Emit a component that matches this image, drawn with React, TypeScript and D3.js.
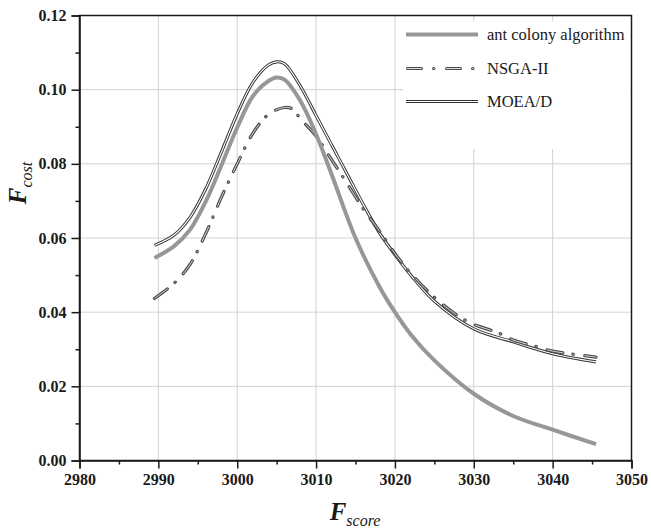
import React, { useEffect, useRef } from "react";
import * as d3 from "d3";

// Fscore values where each curve was sampled
const antX = [2989.5, 2992, 2994, 2996, 2998, 3000, 3002, 3004, 3005, 3006, 3008, 3010, 3012, 3015, 3018, 3020, 3022, 3025, 3030, 3035, 3040, 3045.5];
const antY = [0.0546, 0.0578, 0.0622, 0.0698, 0.0796, 0.0898, 0.0983, 0.1024, 0.1033, 0.1027, 0.097, 0.088, 0.077, 0.06, 0.047, 0.04, 0.034, 0.027, 0.018, 0.012, 0.0083, 0.0044];

const nsgaX = [2989.5, 2992, 2994, 2996, 2998, 3000, 3002, 3004, 3006, 3007, 3008, 3010, 3012, 3014, 3016, 3018, 3020, 3022, 3025, 3028, 3030, 3033, 3035, 3038, 3040, 3045.5];
const nsgaY = [0.0437, 0.0478, 0.0528, 0.0612, 0.071, 0.08, 0.0883, 0.0934, 0.0952, 0.0948, 0.0922, 0.0875, 0.081, 0.0745, 0.0678, 0.062, 0.0558, 0.0505, 0.044, 0.039, 0.0367, 0.0345, 0.0325, 0.0307, 0.0295, 0.0279];

const moeaX = [2989.5, 2992, 2994, 2996, 2998, 3000, 3002, 3004, 3005, 3006, 3008, 3010, 3012, 3014, 3016, 3018, 3020, 3022, 3025, 3030, 3035, 3040, 3045.5];
const moeaY = [0.058, 0.0608, 0.0655, 0.0732, 0.0832, 0.0935, 0.102, 0.1067, 0.1075, 0.107, 0.101, 0.093, 0.085, 0.077, 0.069, 0.0615, 0.0555, 0.05, 0.043, 0.0355, 0.032, 0.0288, 0.0266];

const legendNames = ["ant colony algorithm", "NSGA-II", "MOEA/D"];
const xTicks = [2980, 2990, 3000, 3010, 3020, 3030, 3040, 3050];
const yTicks = [0, 0.02, 0.04, 0.06, 0.08, 0.1, 0.12];

export default function App() {
  const ref = useRef<SVGSVGElement>(null);

  useEffect(() => {
    const svg = d3.select(ref.current);
    svg.selectAll("*").remove();

    const left = 79.5, right = 631.5, top = 15.5, bottom = 460.5;
    const x = d3.scaleLinear().domain([2980, 3050]).range([left, right]);
    const y = d3.scaleLinear().domain([0, 0.12]).range([bottom, top]);
    const serif = "Liberation Serif, Times New Roman, Times, serif";
    const ink = "#1a1a1a";

    // grid
    const grid = svg.append("g").attr("stroke", "#d2d2d2").attr("stroke-width", 1);
    xTicks.slice(1, -1).forEach(t => {
      grid.append("line").attr("x1", x(t)).attr("x2", x(t)).attr("y1", top).attr("y2", bottom);
    });
    yTicks.slice(1, -1).forEach(t => {
      grid.append("line").attr("x1", left).attr("x2", right).attr("y1", y(t)).attr("y2", y(t));
    });

    // legend background hides the grid
    svg.append("rect").attr("x", 403).attr("y", 21).attr("width", right - 404).attr("height", 128).attr("fill", "#fff");

    const line = (xs: number[], ys: number[]) =>
      d3.line<number>().x((_, i) => x(xs[i])).y(d => y(d)).curve(d3.curveCatmullRom.alpha(0.5))(ys);

    // MOEA/D: double line
    svg.append("path").attr("d", line(moeaX, moeaY)).attr("fill", "none").attr("stroke", "#333").attr("stroke-width", 3.1);
    svg.append("path").attr("d", line(moeaX, moeaY)).attr("fill", "none").attr("stroke", "#fff").attr("stroke-width", 1.1);

    // NSGA-II: hollow dash-dot
    const dash = "16 10 0.5 11.5";
    svg.append("path").attr("d", line(nsgaX, nsgaY)).attr("fill", "none").attr("stroke", "#4a4a4a")
      .attr("stroke-width", 3.2).attr("stroke-linecap", "round").attr("stroke-dasharray", dash);
    svg.append("path").attr("d", line(nsgaX, nsgaY)).attr("fill", "none").attr("stroke", "#d8d8d8")
      .attr("stroke-width", 1).attr("stroke-linecap", "round").attr("stroke-dasharray", dash);

    // ant colony: thick gray
    svg.append("path").attr("d", line(antX, antY)).attr("fill", "none").attr("stroke", "#979797").attr("stroke-width", 4);

    // frame
    svg.append("rect").attr("x", left).attr("y", top).attr("width", right - left).attr("height", bottom - top)
      .attr("fill", "none").attr("stroke", ink).attr("stroke-width", 1.5);

    // axes
    const xAxis = svg.append("g").attr("transform", `translate(0,${bottom})`)
      .call(d3.axisBottom(x).tickValues(xTicks).tickSize(8).tickPadding(5).tickFormat(d3.format("d")));
    svg.append("g").attr("transform", `translate(0,${bottom})`)
      .call(d3.axisBottom(x).tickValues(d3.range(2985, 3050, 10)).tickSize(4).tickFormat(() => ""))
      .call(g => g.select(".domain").remove());
    const yAxis = svg.append("g").attr("transform", `translate(${left},0)`)
      .call(d3.axisLeft(y).tickValues(yTicks).tickSize(8).tickPadding(5).tickFormat(d3.format(".2f")));
    svg.append("g").attr("transform", `translate(${left},0)`)
      .call(d3.axisLeft(y).tickValues(d3.range(0.01, 0.12, 0.02)).tickSize(4).tickFormat(() => ""))
      .call(g => g.select(".domain").remove());
    svg.selectAll(".tick line").attr("stroke", ink).attr("stroke-width", 1.5);
    svg.selectAll(".domain").attr("stroke", ink).attr("stroke-width", 1.5);
    [xAxis, yAxis].forEach(a => {
      a.attr("font-family", null).attr("font-size", null);
      a.selectAll("text").style("font-family", serif).style("font-weight", "bold")
        .style("font-size", "16px").attr("fill", ink);
    });

    // axis titles
    const xt = svg.append("text").attr("x", 355).attr("y", 520).attr("text-anchor", "middle")
      .style("font-family", serif).style("font-style", "italic").attr("fill", ink);
    xt.append("tspan").style("font-size", "25px").style("font-weight", "bold").text("F");
    xt.append("tspan").style("font-size", "16px").attr("dy", 6).text("score");

    const yt = svg.append("text").attr("transform", "translate(26,183) rotate(-90)").attr("text-anchor", "middle")
      .style("font-family", serif).style("font-style", "italic").attr("fill", ink);
    yt.append("tspan").style("font-size", "25px").style("font-weight", "bold").text("F");
    yt.append("tspan").style("font-size", "16px").attr("dy", 6).text("cost");

    // legend
    const lx1 = 406, lx2 = 478;
    const rows = [34.5, 68.5, 101.5];
    svg.append("line").attr("x1", lx1).attr("x2", lx2).attr("y1", rows[0]).attr("y2", rows[0])
      .attr("stroke", "#979797").attr("stroke-width", 4);
    const ldash = "14 12 0.5 12.5";
    svg.append("line").attr("x1", lx1 + 1.5).attr("x2", lx2).attr("y1", rows[1]).attr("y2", rows[1])
      .attr("stroke", "#4a4a4a").attr("stroke-width", 3).attr("stroke-linecap", "round").attr("stroke-dasharray", ldash);
    svg.append("line").attr("x1", lx1 + 1.5).attr("x2", lx2).attr("y1", rows[1]).attr("y2", rows[1])
      .attr("stroke", "#e0e0e0").attr("stroke-width", 1).attr("stroke-linecap", "round").attr("stroke-dasharray", ldash);
    svg.append("line").attr("x1", lx1).attr("x2", lx2).attr("y1", rows[2]).attr("y2", rows[2])
      .attr("stroke", "#333").attr("stroke-width", 3);
    svg.append("line").attr("x1", lx1).attr("x2", lx2).attr("y1", rows[2]).attr("y2", rows[2])
      .attr("stroke", "#fff").attr("stroke-width", 1);
    legendNames.forEach((n, i) => {
      svg.append("text").attr("x", 487).attr("y", rows[i]).attr("dy", "0.35em")
        .style("font-family", serif).style("font-size", "16.5px").attr("fill", ink).text(n);
    });
  }, []);

  return (
    <svg ref={ref} width={651} height={532}
      style={{ position: "absolute", left: 0, top: 0, background: "#fff" }} />
  );
}
